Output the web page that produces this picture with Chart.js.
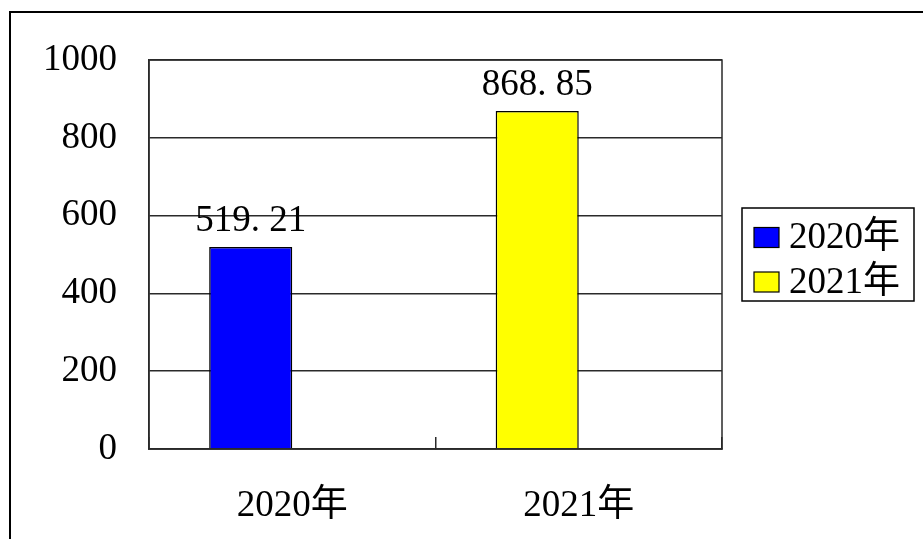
<!DOCTYPE html>
<html>
<head>
<meta charset="utf-8">
<script src="https://cdn.jsdelivr.net/npm/chart.js@4/dist/chart.umd.min.js"></script>
<style>
  html, body { margin: 0; padding: 0; background: #fff; overflow: hidden; }
  #wrap { position: relative; width: 923px; height: 539px; }
  #frame { position: absolute; left: 9px; top: 11px; width: 1000px; height: 1000px; border: 2px solid #000; box-sizing: border-box; }
  #chart { position: absolute; left: 0; top: 0; }
</style>
</head>
<body>
<div id="wrap">
  <div id="frame"></div>
  <canvas id="chart" width="923" height="539"></canvas>
</div>
<script>
// categories on the x axis, one series per year (each only has a value in its own year)
const CATEGORIES = ['2020年', '2021年'];
const SERIES_NAMES = ['2020年', '2021年'];
const SERIES_2020 = [519.21, null];
const SERIES_2021 = [null, 868.85];
const SERIES_COLORS = ['#0000FF', '#FFFF00'];
const Y_MIN = 0, Y_MAX = 1000, Y_STEP = 200;

const FONT = "'Liberation Serif', 'Noto Sans CJK SC', serif";
const FONT_SIZE = 37;
const GRID = '#2a2a2a';

// outline of the plot area
const plotBorder = {
  id: 'plotBorder',
  afterDraw(chart) {
    const { ctx, chartArea: a } = chart;
    ctx.save();
    ctx.strokeStyle = GRID; ctx.lineWidth = 1.5;
    ctx.strokeRect(a.left, a.top, a.right - a.left, a.bottom - a.top);
    ctx.restore();
  },
};

// value labels above each bar ("519. 21" style)
const valueLabels = {
  id: 'valueLabels',
  afterDatasetsDraw(chart) {
    const { ctx } = chart;
    ctx.save();
    ctx.font = `${FONT_SIZE}px ${FONT}`;
    ctx.fillStyle = '#000';
    ctx.textAlign = 'center';
    ctx.textBaseline = 'alphabetic';
    chart.data.datasets.forEach((ds, i) => {
      if (!ds.label) return;
      chart.getDatasetMeta(i).data.forEach((bar, j) => {
        const v = ds.data[j];
        if (v == null) return;
        ctx.fillText(v.toFixed(2).replace('.', '. '), bar.x, bar.y - 16);
      });
    });
    ctx.restore();
  },
};

// boxed legend to the right of the plot
const boxLegend = {
  id: 'boxLegend',
  afterDraw(chart) {
    const { ctx, chartArea: a } = chart;
    const items = chart.data.datasets.filter((d) => d.label);
    const left = a.right + 20, width = 172, top = 208, height = 93;
    ctx.save();
    ctx.strokeStyle = '#000'; ctx.lineWidth = 1.5;
    ctx.strokeRect(left, top, width, height);
    ctx.font = `${FONT_SIZE}px ${FONT}`;
    ctx.textBaseline = 'middle';
    items.forEach((d, i) => {
      const cy = top + 29.5 + 44.5 * i;
      ctx.fillStyle = d.backgroundColor;
      ctx.fillRect(left + 12, cy - 10, 25, 20);
      ctx.strokeStyle = '#000'; ctx.lineWidth = 1.2;
      ctx.strokeRect(left + 12, cy - 10, 25, 20);
      ctx.fillStyle = '#000';
      ctx.fillText(d.label, left + 47, cy + 1);
    });
    ctx.restore();
  },
};

new Chart(document.getElementById('chart'), {
  type: 'bar',
  data: {
    labels: CATEGORIES,
    datasets: [
      { label: SERIES_NAMES[0], data: SERIES_2020, backgroundColor: SERIES_COLORS[0], stack: 'a' },
      { label: SERIES_NAMES[1], data: SERIES_2021, backgroundColor: SERIES_COLORS[1], stack: 'a' },
      { label: '', data: [null, null], stack: 'b' },
    ],
  },
  options: {
    responsive: false,
    animation: false,
    devicePixelRatio: 1,
    layout: { padding: { top: 60, right: 201, bottom: 0, left: 0 } },
    datasets: { bar: { borderColor: '#000', borderWidth: 1.5, categoryPercentage: 0.58, barPercentage: 1 } },
    plugins: { legend: { display: false }, tooltip: { enabled: false } },
    scales: {
      x: {
        grid: { offset: true, drawOnChartArea: false, drawTicks: true, tickLength: -12, color: GRID, lineWidth: 1.5 },
        border: { display: true, color: GRID, width: 1.5 },
        ticks: { color: '#000', font: { family: FONT, size: FONT_SIZE }, padding: 47, maxRotation: 0 },
        afterFit: (s) => { s.height = 90; },
      },
      y: {
        min: Y_MIN, max: Y_MAX,
        grid: { color: GRID, lineWidth: 1.5, drawTicks: false },
        border: { display: true, color: GRID, width: 1.5 },
        ticks: { stepSize: Y_STEP, color: '#000', font: { family: FONT, size: FONT_SIZE }, padding: 32, callback: (v) => String(v) },
        afterFit: (s) => { s.width = 149; },
      },
    },
  },
  plugins: [plotBorder, valueLabels, boxLegend],
});
</script>
</body>
</html>
